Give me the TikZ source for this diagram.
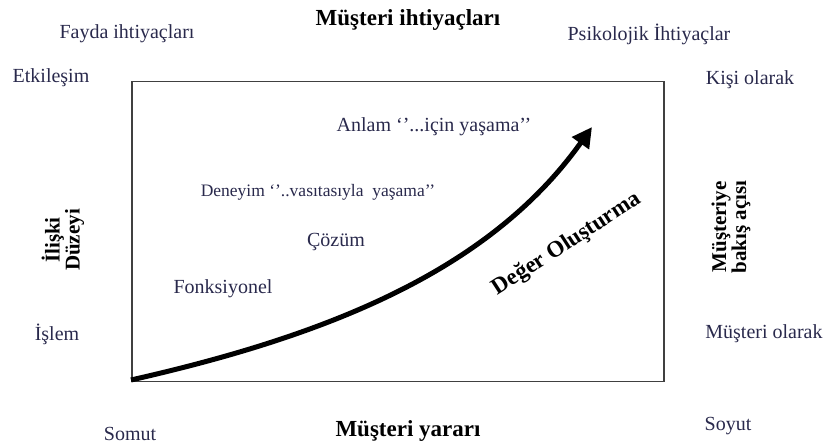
\documentclass[tikz,border=0pt]{standalone}
\usepackage{fontspec}
\setmainfont{Liberation Serif}
\usetikzlibrary{arrows.meta}
\definecolor{lbl}{rgb}{0.16,0.16,0.30}
\begin{document}
\begin{tikzpicture}[x=1pt,y=-1pt,
  lab/.style={font=\fontsize{20}{22}\selectfont, text=lbl, inner sep=0pt},
  inlab/.style={font=\fontsize{20}{22}\selectfont, text=lbl, inner sep=0pt},
  title/.style={font=\bfseries\fontsize{23}{25}\selectfont, text=black, inner sep=0pt},
  side/.style={font=\bfseries\fontsize{21}{20}\selectfont, text=black, inner sep=0pt, align=center, rotate=90}]
\useasboundingbox (0,0) rectangle (825,446);
\node[draw=black!75, line width=1.5pt, minimum width=532pt, minimum height=300pt, anchor=north west, inner sep=0pt] (box) at (131,81) {};
\node[title] (top) at (408,20) {Müşteri ihtiyaçları};
\node[title] (bottom) at (408,431) {Müşteri yararı};
\node[lab] (fayda) at (127,34) {Fayda ihtiyaçları};
\node[lab] (psiko) at (649,34) {Psikolojik İhtiyaçlar};
\node[lab] (etki) at (51,78) {Etkileşim};
\node[lab] (kisi) at (750,80) {Kişi olarak};
\node[lab] (islem) at (57,334) {İşlem};
\node[lab] (mus) at (764,334) {Müşteri olarak};
\node[lab] (somut) at (130,434) {Somut};
\node[lab] (soyut) at (728,426) {Soyut};
\node[inlab] (anlam) at (434,127) {Anlam ‘’...için yaşama’’};
\node[inlab, font=\fontsize{17.5}{19}\selectfont] (deneyim) at (318,192) {Deneyim ‘’..vasıtasıyla\ \ yaşama’’};
\node[inlab] (cozum) at (336,242) {Çözüm};
\node[inlab] (fonk) at (223,289) {Fonksiyonel};
\node[side] (iliski) at (63,240) {İlişki\\Düzeyi};
\node[side] (bakis) at (731,227) {Müşteriye\\bakış açısı};
\coordinate (start) at (131,380);
\coordinate (tip) at (592,127);
\draw[line width=5pt, -{Triangle[length=20pt,width=20pt]}] (start) .. controls (330,335) and (490,270) .. (tip);
\node[font=\bfseries\fontsize{23}{23}\selectfont, rotate=33, inner sep=0pt] (deger) at (567,244) {Değer Oluşturma};
\end{tikzpicture}
\end{document}
